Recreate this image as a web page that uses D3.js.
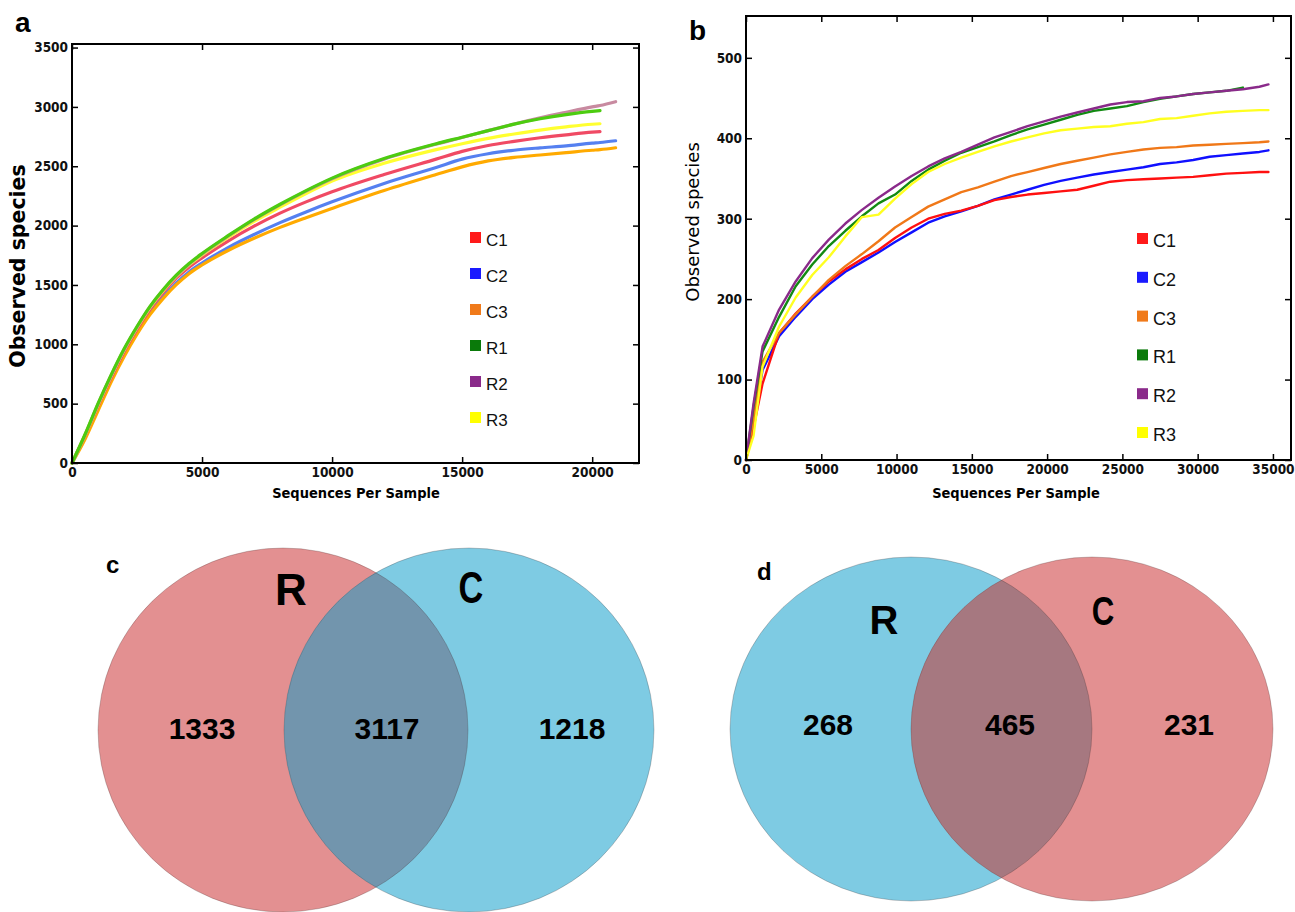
<!DOCTYPE html>
<html>
<head>
<meta charset="utf-8">
<script src="https://cdn.jsdelivr.net/npm/d3@7"></script>
<style>
  body { margin: 0; background: #fff; }
  svg { display: block; }
  .tick text { font-family: "DejaVu Sans Condensed", "DejaVu Sans", sans-serif; font-weight: bold; font-size: 13.5px; fill: #111; }
  .tick line { stroke: #000; stroke-width: 1.5; }
</style>
</head>
<body>
<svg id="fig" width="1295" height="912"></svg>
<script>
const names = ["C1", "C2", "C3", "R1", "R2", "R3"];

// panel a : smoothed rarefaction curves (sequences per sample -> observed species)
const aSeq = [0,500,1000,1500,2000,2500,3000,3500,4000,4500,5000,6000,7000,8000,9000,10000,12000,14000,15000,16000,17000,18000,19000,20000,20300,20900];
const aC1 = [0,230,480,715,935,1125,1295,1435,1555,1650,1728,1870,1995,2105,2200,2285,2430,2560,2625,2675,2710,2740,2765,2787,2791,null];
const aC2 = [0,220,465,700,915,1100,1265,1400,1515,1610,1685,1815,1925,2025,2115,2200,2355,2490,2560,2605,2635,2655,2672,2695,2700,2715];
const aC3 = [0,200,440,680,895,1085,1250,1385,1500,1595,1668,1790,1893,1985,2067,2145,2295,2430,2495,2545,2575,2595,2615,2635,2640,2656];
const aR1 = [0,240,500,740,960,1150,1320,1460,1580,1680,1765,1915,2055,2180,2295,2400,2565,2690,2745,2800,2855,2900,2935,2962,2968,null];
const aR2 = [0,235,495,735,955,1145,1315,1455,1575,1675,1760,1910,2050,2175,2290,2395,2560,2686,2742,2800,2856,2908,2955,3000,3012,3044];
const aR3 = [0,235,490,730,950,1140,1310,1450,1570,1670,1752,1900,2035,2155,2270,2375,2525,2640,2690,2735,2772,2805,2832,2854,2858,null];
const aTicksX = [0,5000,10000,15000,20000];
const aTicksY = [0,500,1000,1500,2000,2500,3000,3500];

// panel b : stepwise rarefaction curves
const bSeq = [0,500,1100,2200,3300,4400,5500,6600,7700,8800,9900,11000,12100,13200,14300,15400,16500,17600,18700,19800,20900,22000,23100,24200,25300,26400,27500,28600,29700,30800,31900,33000,34100,34700];
const bC1 = [0,40,95,158,182,203,222,237,250,261,276,289,300,306,310,316,323,327,330,332,334,336,341,346,348,349,350,351,352,354,356,357,358,358];
const bC2 = [0,45,112,154,178,200,218,234,246,258,271,283,295,303,309,316,324,330,336,342,347,351,355,358,361,364,368,370,373,377,379,381,383,385];
const bC3 = [0,50,122,158,181,203,224,241,256,272,289,302,315,324,333,339,346,353,358,363,368,372,376,380,383,386,388,389,391,392,393,394,395,396];
const bR1 = [0,66,135,178,216,243,266,285,303,319,330,347,361,372,382,389,396,404,411,417,423,429,434,437,440,445,449,452,455,457,459,463,null,null];
const bR2 = [0,70,141,187,222,251,274,294,311,326,340,353,365,375,383,392,401,408,415,421,427,432,437,442,445,446,450,452,455,457,459,461,464,467];
const bR3 = [0,30,116,166,202,230,252,278,302,305,325,343,358,368,376,383,390,396,401,406,410,412,414,415,418,420,424,425,428,431,433,434,435,435];
const bTicksX = [0,5000,10000,15000,20000,25000,30000,35000];
const bTicksY = [0,100,200,300,400,500];

// venn counts : [only first, shared, only second]
const vennCSets = ["R", "C"];
const vennCCounts = [1333, 3117, 1218];
const vennDSets = ["R", "C"];
const vennDCounts = [268, 465, 231];

const legendColors = { C1: "#ff1a1a", C2: "#1a1aff", C3: "#f07a1a", R1: "#0a7a0a", R2: "#8a2a8a", R3: "#ffff00" };
const aLineColors = { C1: "#f04a64", C2: "#5580f0", C3: "#ffaa00", R1: "#4ccc10", R2: "#c88aa0", R3: "#ffff30" };
const bLineColors = { C1: "#ff1010", C2: "#1010ff", C3: "#f07818", R1: "#128a12", R2: "#8a2a8a", R3: "#ffff20" };

const svg = d3.select('#fig');
svg.append('rect').attr('width', 1295).attr('height', 912).style('fill', '#fff');

function rarePanel(p) {
  const x = d3.scaleLinear().domain(p.xDomain).range([p.box.left, p.box.right]);
  const y = d3.scaleLinear().domain(p.yDomain).range([p.box.bottom, p.box.top]);
  const g = svg.append('g');

  const line = d3.line()
    .defined(d => d[1] != null)
    .x(d => x(d[0])).y(d => y(d[1]))
    .curve(p.curve);

  p.order.forEach(name => {
    const vals = p.series[name];
    g.append('path')
      .datum(p.seq.map((s, j) => [s, vals[j]]))
      .attr('d', line)
      .style('fill', 'none')
      .style('stroke', p.colors[name])
      .style('stroke-width', p.lineWidth)
      .style('stroke-linejoin', 'round')
      .style('stroke-linecap', 'round');
  });

  // ticks on all four sides, pointing inward
  g.append('g').attr('transform', `translate(0,${p.box.bottom})`)
    .call(d3.axisBottom(x).tickValues(p.ticksX).tickSize(-6).tickPadding(4).tickFormat(d3.format('d')))
    .call(a => a.select('.domain').remove());
  g.append('g').attr('transform', `translate(0,${p.box.top})`)
    .call(d3.axisTop(x).tickValues(p.ticksX).tickSize(-6).tickFormat(''))
    .call(a => a.select('.domain').remove());
  g.append('g').attr('transform', `translate(${p.box.left},0)`)
    .call(d3.axisLeft(y).tickValues(p.ticksY).tickSize(-6).tickPadding(4).tickFormat(d3.format('d')))
    .call(a => a.select('.domain').remove());
  g.append('g').attr('transform', `translate(${p.box.right},0)`)
    .call(d3.axisRight(y).tickValues(p.ticksY).tickSize(-6).tickFormat(''))
    .call(a => a.select('.domain').remove());

  g.append('rect')
    .attr('x', p.box.left).attr('y', p.box.top)
    .attr('width', p.box.right - p.box.left).attr('height', p.box.bottom - p.box.top)
    .style('fill', 'none').style('stroke', '#000').style('stroke-width', 2);

  // axis titles
  g.append('text')
    .attr('transform', `translate(${p.yTitle.x},${p.yTitle.y}) rotate(-90)`)
    .style('text-anchor', 'middle')
    .style('font-family', '"DejaVu Sans", sans-serif')
    .style('font-weight', p.yTitle.weight)
    .style('font-size', p.yTitle.size + 'px')
    .text('Observed species');
  g.append('text')
    .attr('x', p.xTitle.x).attr('y', p.xTitle.y)
    .style('text-anchor', 'middle')
    .style('font-family', '"DejaVu Sans Condensed", "DejaVu Sans", sans-serif')
    .style('font-weight', 'bold')
    .style('font-size', '14.5px')
    .text('Sequences Per Sample');

  // legend
  names.forEach((name, i) => {
    const ly = p.legend.y + i * p.legend.step;
    g.append('rect')
      .attr('x', p.legend.x).attr('y', ly)
      .attr('width', 11).attr('height', 11)
      .style('fill', legendColors[name]);
    g.append('text')
      .attr('x', p.legend.x + 16).attr('y', ly + 14)
      .style('font-family', '"Liberation Sans Narrow", "Liberation Sans", Arial, sans-serif')
      .style('font-size', p.legend.size + 'px')
      .style('fill', '#111')
      .text(name);
  });

  // panel letter
  g.append('text')
    .attr('x', p.letter.x).attr('y', p.letter.y)
    .style('font-family', '"Liberation Sans", Arial, sans-serif')
    .style('font-weight', 'bold').style('font-size', '28px')
    .text(p.letter.t);
}

rarePanel({
  box: { left: 72, right: 639, top: 44, bottom: 463 },
  xDomain: [0, 21800], yDomain: [0, 3530],
  seq: aSeq,
  series: { C1: aC1, C2: aC2, C3: aC3, R1: aR1, R2: aR2, R3: aR3 },
  order: ["C2", "C3", "C1", "R3", "R2", "R1"],
  colors: aLineColors, lineWidth: 3.2,
  curve: d3.curveMonotoneX,
  ticksX: aTicksX, ticksY: aTicksY,
  yTitle: { x: 25, y: 266, size: 20.5, weight: 'bold' },
  xTitle: { x: 356, y: 498 },
  legend: { x: 470, y: 232, step: 36, size: 17 },
  letter: { x: 15, y: 32, t: 'a' }
});

rarePanel({
  box: { left: 746, right: 1291, top: 16, bottom: 460 },
  xDomain: [0, 36200], yDomain: [0, 552],
  seq: bSeq,
  series: { C1: bC1, C2: bC2, C3: bC3, R1: bR1, R2: bR2, R3: bR3 },
  order: ["C2", "C1", "C3", "R1", "R2", "R3"],
  colors: bLineColors, lineWidth: 2.4,
  curve: d3.curveLinear,
  ticksX: bTicksX, ticksY: bTicksY,
  yTitle: { x: 699, y: 222, size: 18, weight: 'normal' },
  xTitle: { x: 1016, y: 498 },
  legend: { x: 1137, y: 233, step: 38.8, size: 18 },
  letter: { x: 689, y: 40, t: 'b' }
});

// venn diagrams
function venn(v) {
  const g = svg.append('g');
  const [c0, c1] = v.centers;
  const clipId = 'clip-' + v.id;
  g.append('clipPath').attr('id', clipId)
    .append('ellipse').attr('cx', c0).attr('cy', v.cy).attr('rx', v.rx).attr('ry', v.ry);

  g.append('ellipse').attr('cx', c0).attr('cy', v.cy).attr('rx', v.rx).attr('ry', v.ry)
    .style('fill', v.fills[0]);
  g.append('ellipse').attr('cx', c1).attr('cy', v.cy).attr('rx', v.rx).attr('ry', v.ry)
    .style('fill', v.fills[1]);
  g.append('ellipse').attr('cx', c1).attr('cy', v.cy).attr('rx', v.rx).attr('ry', v.ry)
    .attr('clip-path', `url(#${clipId})`)
    .style('fill', v.fills[2]);
  [c0, c1].forEach(cx => {
    g.append('ellipse').attr('cx', cx).attr('cy', v.cy).attr('rx', v.rx).attr('ry', v.ry)
      .style('fill', 'none').style('stroke', 'rgba(60,40,40,0.25)').style('stroke-width', 1);
  });

  // set names, the second one is drawn narrow
  v.sets.forEach((s, i) => {
    g.append('text')
      .attr('transform', `translate(${v.namePos[i][0]},${v.namePos[i][1]}) scale(${i === 1 ? 0.78 : 1},1)`)
      .style('text-anchor', 'middle')
      .style('font-family', '"Liberation Sans", Arial, sans-serif')
      .style('font-weight', 'bold')
      .style('font-size', v.nameSize + 'px')
      .text(s);
  });

  // counts
  v.counts.forEach((n, i) => {
    g.append('text')
      .attr('x', v.countX[i]).attr('y', v.countY)
      .style('text-anchor', 'middle')
      .style('font-family', '"Liberation Sans", Arial, sans-serif')
      .style('font-weight', 'bold')
      .style('font-size', '30px')
      .text(n);
  });

  g.append('text')
    .attr('x', v.letter[0]).attr('y', v.letter[1])
    .style('font-family', '"Liberation Sans", Arial, sans-serif')
    .style('font-weight', 'bold').style('font-size', '24px')
    .text(v.id);
}

venn({
  id: 'c',
  centers: [283, 469], cy: 730, rx: 185, ry: 182,
  fills: ['#e39091', '#7ecbe3', '#7295ad'],
  sets: vennCSets, namePos: [[291, 605], [471, 603]], nameSize: 44,
  counts: vennCCounts, countX: [202, 387, 572], countY: 739,
  letter: [106, 573]
});

venn({
  id: 'd',
  centers: [911, 1092], cy: 729, rx: 181, ry: 172,
  fills: ['#7ecbe3', '#e39091', '#a67880'],
  sets: vennDSets, namePos: [[884, 634], [1103, 625]], nameSize: 40,
  counts: vennDCounts, countX: [828, 1010, 1189], countY: 735,
  letter: [757, 580]
});
</script>
</body>
</html>
